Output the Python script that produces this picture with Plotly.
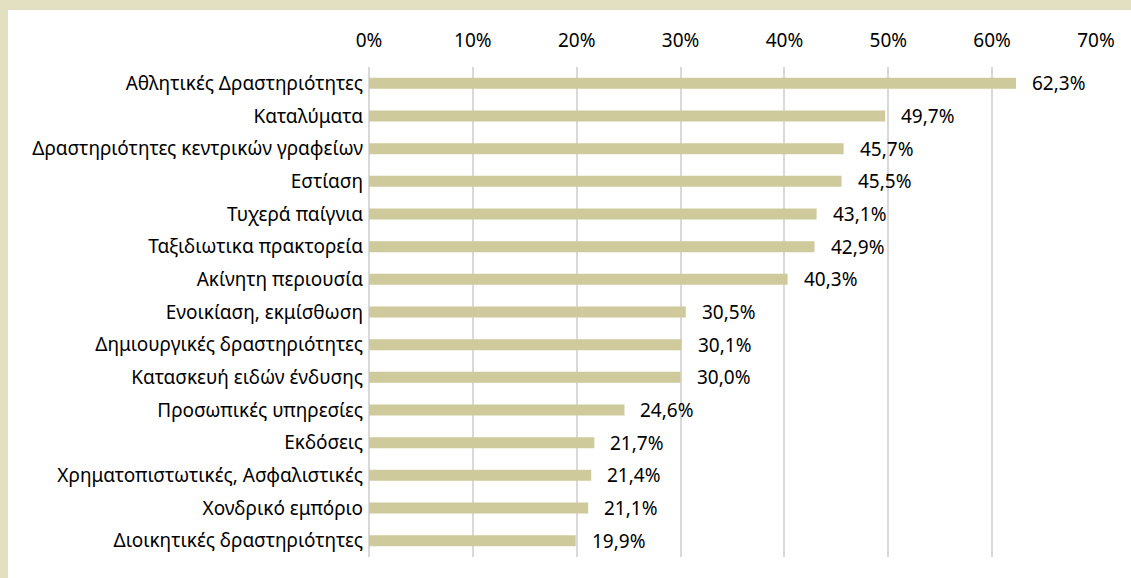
import plotly.graph_objects as go

C_BAR = '#cfca9c'
C_FRAME = '#e3dfc1'
C_GRID = '#d9d9d9'
C_TEXT = '#000000'

categories = [
    'Αθλητικές Δραστηριότητες',
    'Καταλύματα',
    'Δραστηριότητες κεντρικών γραφείων',
    'Εστίαση',
    'Τυχερά παίγνια',
    'Ταξιδιωτικα πρακτορεία',
    'Ακίνητη περιουσία',
    'Ενοικίαση, εκμίσθωση',
    'Δημιουργικές δραστηριότητες',
    'Κατασκευή ειδών ένδυσης',
    'Προσωπικές υπηρεσίες',
    'Εκδόσεις',
    'Χρηματοπιστωτικές, Ασφαλιστικές',
    'Χονδρικό εμπόριο',
    'Διοικητικές δραστηριότητες',
]
values = [62.3, 49.7, 45.7, 45.5, 43.1, 42.9, 40.3, 30.5, 30.1, 30.0, 24.6, 21.7, 21.4, 21.1, 19.9]
tick_vals = [0, 10, 20, 30, 40, 50, 60, 70]
tick_text = [f'{v}%' for v in tick_vals]

W, H = 1131, 578
L, R, T, B = 369, 35, 67, 21
FS = 19

labels = [f'{v:.1f}%'.replace('.', ',') for v in values]

fig = go.Figure(go.Bar(
    x=values, y=categories, orientation='h',
    marker=dict(color=C_BAR, line=dict(width=0)),
    width=0.336, hoverinfo='x+y',
))

# value labels, a little away from the bar ends
for c, v, t in zip(categories, values, labels):
    fig.add_annotation(
        x=v, y=c, text=t, showarrow=False, xanchor='left', xshift=14,
        font=dict(size=FS, color=C_TEXT),
    )

# white card inside the beige frame
pw, ph = W - L - R, H - T - B
fig.add_shape(
    type='rect', xref='paper', yref='paper', layer='below',
    x0=(8 - L) / pw, x1=(W - L + 5) / pw,
    y0=-(B + 5) / ph, y1=1 + (T - 10) / ph,
    fillcolor='white', line=dict(width=0),
)

fig.update_layout(
    width=W, height=H,
    paper_bgcolor=C_FRAME, plot_bgcolor='rgba(0,0,0,0)',
    font=dict(family='Noto Sans, sans-serif', size=FS, color=C_TEXT),
    margin=dict(l=L, r=R, t=T, b=B),
    showlegend=False,
    xaxis=dict(
        side='top', range=[0, 70], tickvals=tick_vals, ticktext=tick_text,
        showgrid=True, gridcolor=C_GRID, gridwidth=2,
        zeroline=True, zerolinecolor=C_GRID, zerolinewidth=2,
        showline=False, ticks='', ticklabelstandoff=15,
        tickfont=dict(size=FS),
    ),
    yaxis=dict(
        autorange='reversed', showgrid=False, showline=False, ticks='',
        ticklabelstandoff=5, tickfont=dict(size=FS),
    ),
)

fig.write_html('out.html', config={'displayModeBar': False},
               post_script="document.body.style.margin='0';document.body.style.overflow='hidden';")
